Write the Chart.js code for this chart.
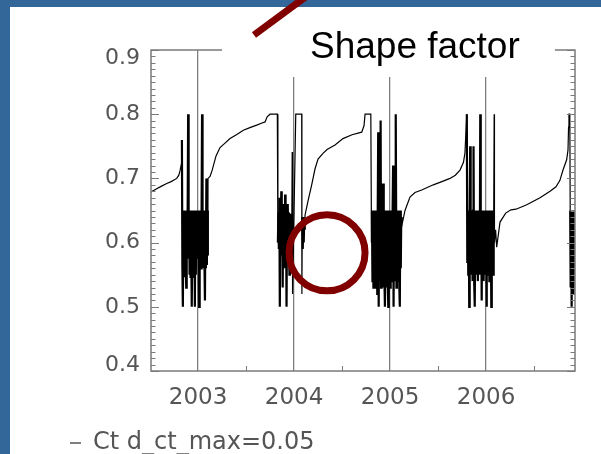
<!DOCTYPE html>
<html>
<head>
<meta charset="utf-8">
<script src="https://cdn.jsdelivr.net/npm/chart.js@4.4.1/dist/chart.umd.min.js"></script>
<style>
  html, body { margin: 0; padding: 0; background: #fff; }
  canvas { display: block; }
</style>
</head>
<body>
<canvas id="shapeChart" width="601" height="454"></canvas>
<script>
const legendLabel = 'Ct d_ct_max=0.05';
const titleText = 'Shape factor';
const halfYears = [2003.5, 2004.5, 2005.5, 2006.5];

// smooth stretches between the winters: [decimal year, shape factor]
const rise2002 = [[2002.51,0.679],[2002.56,0.683],[2002.62,0.688],[2002.674,0.692],[2002.72,0.695],[2002.778,0.700],[2002.80,0.705],[2002.8125,0.712],[2002.826,0.722]];
const rise2003 = [[2003.104,0.700],[2003.125,0.703],[2003.146,0.712],[2003.1875,0.735],[2003.229,0.748],[2003.281,0.755],[2003.333,0.762],[2003.40,0.768],[2003.472,0.775],[2003.54,0.779],[2003.611,0.783],[2003.66,0.786],[2003.698,0.788],[2003.72,0.796],[2003.75,0.800],[2003.826,0.800]];
const spike2004 = [[2003.981,0.741],[2003.985,0.520],[2004.018,0.800],[2004.080,0.800],[2004.082,0.520]];
const rise2004 = [[2004.115,0.643],[2004.146,0.665],[2004.184,0.690],[2004.219,0.715],[2004.25,0.730],[2004.302,0.739],[2004.344,0.745],[2004.427,0.752],[2004.51,0.762],[2004.604,0.768],[2004.705,0.772],[2004.729,0.782],[2004.74,0.800],[2004.80,0.800]];
const rise2005 = [[2005.124,0.627],[2005.156,0.650],[2005.208,0.671],[2005.26,0.678],[2005.33,0.682],[2005.451,0.690],[2005.54,0.695],[2005.625,0.700],[2005.68,0.705],[2005.729,0.713],[2005.765,0.725],[2005.781,0.740],[2005.79,0.770]];
const spike2006 = [[2006.085,0.800],[2006.088,0.600],[2006.100,0.620]];
const rise2006 = [[2006.111,0.593],[2006.146,0.632],[2006.205,0.646],[2006.26,0.651],[2006.3125,0.652],[2006.424,0.659],[2006.5625,0.670],[2006.667,0.680],[2006.729,0.687],[2006.77,0.697],[2006.802,0.713],[2006.84,0.729],[2006.854,0.744],[2006.86,0.780],[2006.864,0.800],[2006.873,0.800]];

// noisy winter periods, one value every 0.005 yr from the start year
const winterStep = 0.005;
const winter2003Start = 2002.832;
const winter2003 = [0.76,0.56,0.50,0.65,0.55,0.65,0.546,0.65,0.56,0.53,0.65,0.58,0.65,0.80,0.575,0.65,0.55,0.65,0.545,0.64,0.55,0.50,0.65,0.545,0.65,0.55,0.65,0.50,0.65,0.55,0.65,0.575,0.65,0.58,0.64,0.575,0.50,0.65,0.565,0.65,0.56,0.65,0.80,0.565,0.65,0.56,0.65,0.565,0.51,0.65,0.56,0.70,0.565,0.65,0.58];
const winter2004Start = 2003.832;
const winter2004 = [0.60,0.647,0.59,0.67,0.50,0.647,0.59,0.68,0.58,0.647,0.53,0.66,0.59,0.647,0.56,0.675,0.585,0.647,0.50,0.647,0.59,0.66,0.58,0.647,0.55,0.64,0.60,0.645,0.60,0.63];
const winter2004bStart = 2004.086;
const winter2004b = [0.64,0.59,0.64,0.60,0.635,0.62];
const winter2005Start = 2004.807;
const winter2005 = [0.60,0.65,0.54,0.65,0.53,0.65,0.55,0.65,0.53,0.65,0.54,0.65,0.52,0.65,0.772,0.50,0.65,0.54,0.65,0.79,0.53,0.65,0.55,0.65,0.692,0.53,0.65,0.54,0.50,0.65,0.53,0.65,0.55,0.65,0.53,0.50,0.65,0.54,0.65,0.53,0.65,0.55,0.65,0.54,0.65,0.72,0.50,0.65,0.54,0.65,0.55,0.80,0.53,0.65,0.55,0.65,0.54,0.65,0.53,0.50,0.65,0.56,0.64];
const winter2006Start = 2005.800;
const winter2006 = [0.80,0.57,0.65,0.55,0.65,0.50,0.65,0.75,0.55,0.65,0.56,0.65,0.54,0.65,0.75,0.55,0.65,0.50,0.65,0.56,0.65,0.55,0.65,0.54,0.65,0.56,0.65,0.55,0.80,0.55,0.65,0.51,0.65,0.56,0.65,0.54,0.65,0.55,0.65,0.56,0.65,0.50,0.65,0.55,0.65,0.56,0.65,0.54,0.65,0.55,0.65,0.50,0.65,0.56,0.65,0.55,0.64];
const winter2007Start = 2006.877;
const winter2007 = [0.65,0.53,0.65,0.50,0.65,0.55,0.65,0.52,0.65,0.54,0.65,0.53,0.65];

function pairPoints(pairs) {
  return pairs.map(p => ({ x: p[0], y: p[1] }));
}
function winterPoints(start, values) {
  return values.map((v, i) => ({ x: start + i * winterStep, y: v }));
}

const winters = [
  [winter2003Start, winter2003],
  [winter2004Start, winter2004],
  [winter2004bStart, winter2004b],
  [winter2005Start, winter2005],
  [winter2006Start, winter2006],
  [winter2007Start, winter2007]
];
const winterRanges = winters.map(w => [w[0] - 1e-4, w[0] + (w[1].length - 1) * winterStep + 1e-4]);
const inWinter = v => winterRanges.some(r => v >= r[0] && v <= r[1]);

const points = [].concat(
  pairPoints(rise2002),
  winterPoints(winter2003Start, winter2003),
  pairPoints(rise2003),
  winterPoints(winter2004Start, winter2004),
  pairPoints(spike2004),
  winterPoints(winter2004bStart, winter2004b),
  pairPoints(rise2004),
  winterPoints(winter2005Start, winter2005),
  pairPoints(rise2005),
  winterPoints(winter2006Start, winter2006),
  pairPoints(spike2006),
  pairPoints(rise2006),
  winterPoints(winter2007Start, winter2007)
);

const axisGrey = '#7a7a7a';
const textGrey = '#555';

// slide background, plot frame with inward ticks, title box and red marks
const slidePlugin = {
  id: 'slide',
  beforeDraw(chart) {
    const ctx = chart.ctx;
    ctx.save();
    ctx.fillStyle = '#336699';
    ctx.fillRect(0, 0, chart.width, chart.height);
    ctx.fillStyle = '#fff';
    ctx.fillRect(10, 7, chart.width - 10, chart.height - 7);
    ctx.restore();
  },
  afterDatasetsDraw(chart) {
    const ctx = chart.ctx, a = chart.chartArea, x = chart.scales.x, y = chart.scales.y;
    ctx.save();
    ctx.strokeStyle = axisGrey;
    ctx.lineWidth = 1.5;
    ctx.strokeRect(a.left, a.top, a.right - a.left, a.bottom - a.top);
    ctx.lineWidth = 1;
    ctx.beginPath();
    for (let k = 40; k <= 90; k++) {
      const py = Math.round(y.getPixelForValue(k / 100)) + 0.5;
      const len = k % 10 === 0 ? 8 : 4.5;
      ctx.moveTo(a.left, py); ctx.lineTo(a.left + len, py);
      ctx.moveTo(a.right, py); ctx.lineTo(a.right - len, py);
    }
    halfYears.forEach(v => {
      const px = Math.round(x.getPixelForValue(v)) + 0.5;
      ctx.moveTo(px, a.bottom); ctx.lineTo(px, a.bottom - 5);
    });
    ctx.stroke();
    ctx.restore();
  },
  afterDraw(chart) {
    const ctx = chart.ctx, x = chart.scales.x, y = chart.scales.y;
    ctx.save();
    // text box pasted over the top of the plot
    const bx0 = x.getPixelForValue(2003.25), bx1 = x.getPixelForValue(2006.718);
    const by0 = 7, by1 = y.getPixelForValue(0.858);
    ctx.fillStyle = '#fff';
    ctx.fillRect(bx0, by0, bx1 - bx0, by1 - by0);
    ctx.fillStyle = '#000';
    ctx.font = '37px "Liberation Sans", Arial, sans-serif';
    ctx.textBaseline = 'alphabetic';
    ctx.fillText(titleText, x.getPixelForValue(2004.166), y.getPixelForValue(0.8875));
    // red arrow stub and circle
    ctx.strokeStyle = '#800000';
    ctx.lineWidth = 7;
    ctx.beginPath();
    ctx.moveTo(x.getPixelForValue(2003.583), y.getPixelForValue(0.9234));
    ctx.lineTo(x.getPixelForValue(2004.187), y.getPixelForValue(0.990));
    ctx.stroke();
    ctx.beginPath();
    ctx.arc(x.getPixelForValue(2004.344), y.getPixelForValue(0.584), 38, 0, Math.PI * 2);
    ctx.stroke();
    ctx.restore();
  }
};

const idlFont = 'DejaVu Sans';

new Chart(document.getElementById('shapeChart').getContext('2d'), {
  type: 'line',
  data: {
    datasets: [{
      label: legendLabel,
      data: points,
      borderColor: '#000',
      borderWidth: 1.2,
      pointRadius: 0,
      tension: 0,
      fill: false,
      segment: {
        borderWidth: c => (inWinter(c.p0.parsed.x) && inWinter(c.p1.parsed.x)) ? 2.2 : 1.2
      }
    }]
  },
  options: {
    responsive: false,
    animation: false,
    devicePixelRatio: 1,
    layout: { padding: { left: 60, top: 50, right: 26, bottom: -11 } },
    scales: {
      x: {
        type: 'linear',
        min: 2002.51,
        max: 2006.927,
        border: { display: false },
        grid: { drawTicks: false, color: '#808080', lineWidth: 1.3 },
        ticks: {
          stepSize: 1,
          includeBounds: false,
          autoSkip: false,
          maxRotation: 0,
          padding: 13,
          color: textGrey,
          font: { family: idlFont, size: 23 },
          callback: v => String(v)
        },
        afterFit: s => { s.height = 50; }
      },
      y: {
        min: 0.4,
        max: 0.9,
        border: { display: false },
        grid: { display: false, drawTicks: false },
        ticks: {
          stepSize: 0.1,
          padding: 11,
          color: textGrey,
          font: c => {
            const v = c.tick ? c.tick.value : 0;
            let lh = 1.2;
            if (Math.abs(v - 0.9) < 1e-6) lh = '17px';
            if (Math.abs(v - 0.4) < 1e-6) lh = '12px';
            return { family: idlFont, size: 22, lineHeight: lh };
          },
          callback: v => {
            const s = v.toFixed(1);
            if (Math.abs(v - 0.9) < 1e-6) return ['', s];
            if (Math.abs(v - 0.4) < 1e-6) return [s, ''];
            return s;
          }
        },
        afterFit: s => { s.width = 91; }
      }
    },
    plugins: {
      title: { display: false },
      tooltip: { enabled: false },
      legend: {
        position: 'bottom',
        align: 'start',
        labels: {
          usePointStyle: true,
          pointStyle: 'line',
          pointStyleWidth: 11,
          padding: 10,
          color: textGrey,
          font: { family: idlFont, size: 24 },
          generateLabels: () => [{
            text: legendLabel,
            strokeStyle: textGrey,
            fillStyle: textGrey,
            fontColor: textGrey,
            lineWidth: 1.5,
            pointStyle: 'line',
            hidden: false,
            datasetIndex: 0
          }]
        }
      }
    }
  },
  plugins: [slidePlugin]
});
</script>
</body>
</html>
